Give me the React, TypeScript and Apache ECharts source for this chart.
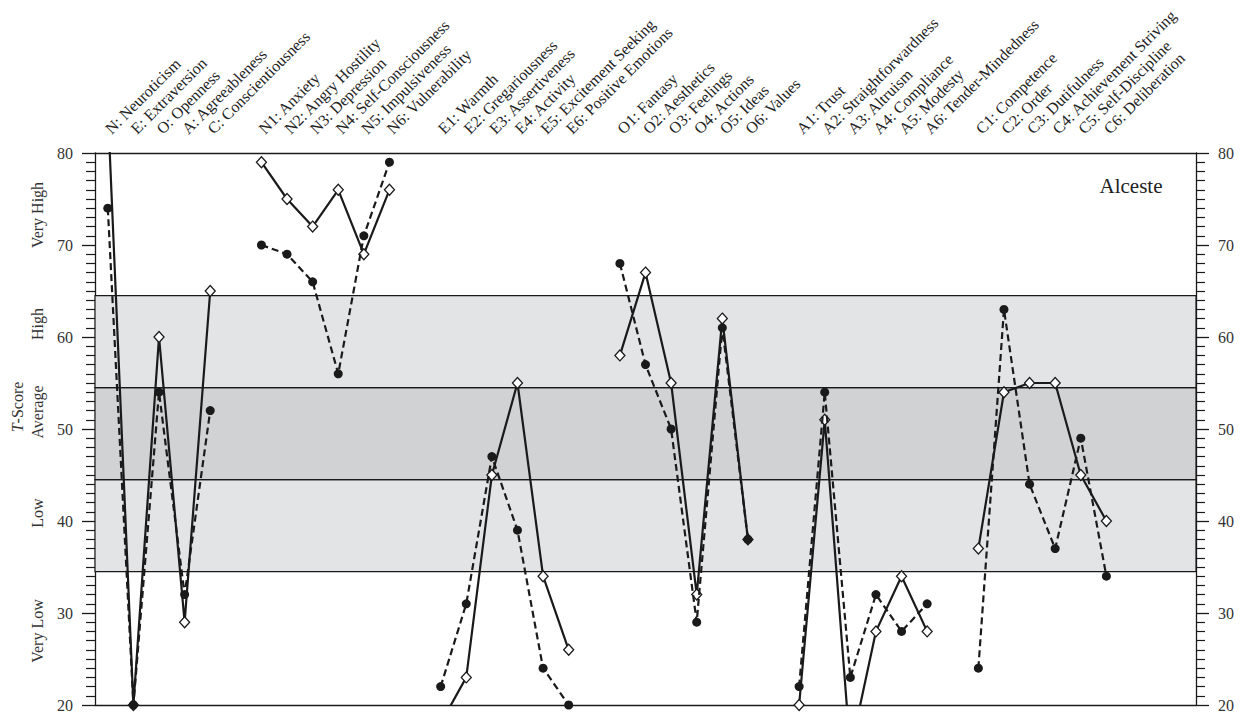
import React, { useEffect, useRef } from 'react';
import * as echarts from 'echarts';

const categories: string[] = [
  'N: Neuroticism', 'E: Extraversion', 'O: Openness', 'A: Agreeableness', 'C: Conscientiousness', '',
  'N1: Anxiety', 'N2: Angry Hostility', 'N3: Depression', 'N4: Self-Consciousness', 'N5: Impulsiveness', 'N6: Vulnerability', '',
  'E1: Warmth', 'E2: Gregariousness', 'E3: Assertiveness', 'E4: Activity', 'E5: Excitement Seeking', 'E6: Positive Emotions', '',
  'O1: Fantasy', 'O2: Aesthetics', 'O3: Feelings', 'O4: Actions', 'O5: Ideas', 'O6: Values', '',
  'A1: Trust', 'A2: Straightforwardness', 'A3: Altruism', 'A4: Compliance', 'A5: Modesty', 'A6: Tender-Mindedness', '',
  'C1: Competence', 'C2: Order', 'C3: Dutifulness', 'C4: Achievement Striving', 'C5: Self-Discipline', 'C6: Deliberation', '', '', '',
];

// solid line, open diamonds
const solidScores: (number | null)[] = [
  85, 20, 60, 29, 65, null,
  79, 75, 72, 76, 69, 76, null,
  18, 23, 45, 55, 34, 26, null,
  58, 67, 55, 32, 62, 38, null,
  20, 51, 15, 28, 34, 28, null,
  37, 54, 55, 55, 45, 40, null, null, null,
];

// dashed line, filled circles
const dashedScores: (number | null)[] = [
  74, 20, 54, 32, 52, null,
  70, 69, 66, 56, 71, 79, null,
  22, 31, 47, 39, 24, 20, null,
  68, 57, 50, 29, 61, 38, null,
  22, 54, 23, 32, 28, 31, null,
  24, 63, 44, 37, 49, 34, null, null, null,
];

const yMin = 20;
const yMax = 80;
const yInterval = 10;

const bandEdges = [34.5, 44.5, 54.5, 64.5];
const bandColors = ['#e3e4e6', '#d1d2d4', '#e3e4e6'];

const levelLabels = ['Very Low', 'Low', 'Average', 'High', 'Very High'];
const levelLabelY = [631, 513, 412, 324, 215];

const FONT = 'Liberation Serif';
const INK = '#1a1a1a';

export default function App() {
  const ref = useRef<HTMLDivElement>(null);

  useEffect(() => {
    if (!ref.current) return;
    const chart = echarts.init(ref.current, null, { renderer: 'svg' });

    const yAxisBase = (position: 'left' | 'right') => ({
      type: 'value',
      position,
      min: yMin,
      max: yMax,
      interval: yInterval,
      axisLine: { show: true, lineStyle: { color: INK, width: 1.3 } },
      axisTick: { show: true, length: 13, lineStyle: { color: INK, width: 1.3 } },
      minorTick: { show: true, splitNumber: 10, length: 9, lineStyle: { color: INK, width: 1.2 } },
      axisLabel: { margin: 22, fontFamily: FONT, fontSize: 16, color: '#333' },
      splitLine: { show: false },
      minorSplitLine: { show: false },
    });

    const markAreaData = bandColors.map((c, i) => [
      { yAxis: bandEdges[i], itemStyle: { color: c } },
      { yAxis: bandEdges[i + 1] },
    ]);

    chart.setOption({
      animation: false,
      backgroundColor: '#ffffff',
      grid: { left: 95, right: 45, top: 153, bottom: 8, containLabel: false },
      xAxis: [
        {
          type: 'category',
          position: 'top',
          data: categories,
          boundaryGap: true,
          axisLine: { show: true, lineStyle: { color: INK, width: 1.3 } },
          axisTick: { show: false },
          axisLabel: {
            interval: 0,
            rotate: -45,
            align: 'left',
            verticalAlign: 'middle',
            margin: 22,
            fontFamily: FONT,
            fontSize: 16,
            color: '#222',
          },
          splitLine: { show: false },
        },
        {
          type: 'category',
          position: 'bottom',
          data: categories,
          boundaryGap: true,
          axisLine: { show: true, lineStyle: { color: INK, width: 1.3 } },
          axisTick: { show: false },
          axisLabel: { show: false },
          splitLine: { show: false },
        },
      ],
      yAxis: [yAxisBase('left'), yAxisBase('right')],
      series: [
        {
          type: 'line',
          name: 'bands',
          data: [],
          silent: true,
          markArea: {
            silent: true,
            itemStyle: { borderColor: INK, borderWidth: 1.2 },
            data: markAreaData,
          },
          z: 1,
        },
        {
          type: 'line',
          name: 'Solid',
          data: solidScores,
          connectNulls: false,
          clip: true,
          symbol: 'diamond',
          symbolSize: [10, 11],
          showSymbol: true,
          lineStyle: { color: INK, width: 2.2, type: 'solid' },
          itemStyle: { color: '#ffffff', borderColor: INK, borderWidth: 1.3 },
          z: 3,
        },
        {
          type: 'line',
          name: 'Dashed',
          data: dashedScores,
          connectNulls: false,
          clip: true,
          symbol: 'circle',
          symbolSize: 9,
          showSymbol: true,
          lineStyle: { color: INK, width: 2.2, type: [7, 4] },
          itemStyle: { color: INK, borderColor: INK, borderWidth: 0 },
          z: 4,
        },
      ],
      graphic: [
        {
          type: 'text',
          x: 1131,
          y: 186,
          style: {
            text: 'Alceste',
            fontFamily: FONT,
            fontSize: 21,
            fill: '#222',
            align: 'center',
            verticalAlign: 'middle',
          },
        },
        ...levelLabels.map((t, i) => ({
          type: 'text',
          x: 37,
          y: levelLabelY[i],
          rotation: Math.PI / 2,
          style: {
            text: t,
            fontFamily: FONT,
            fontSize: 16,
            fill: '#333',
            align: 'center',
            verticalAlign: 'middle',
          },
        })),
        {
          type: 'text',
          x: 17,
          y: 407,
          rotation: Math.PI / 2,
          style: {
            text: '{i|T}-Score',
            fontFamily: FONT,
            fontSize: 16,
            fill: '#333',
            align: 'center',
            verticalAlign: 'middle',
            rich: {
              i: { fontStyle: 'italic', fontFamily: FONT, fontSize: 16, fill: '#333' },
            },
          },
        },
      ],
    });

    return () => chart.dispose();
  }, []);

  return (
    <div
      ref={ref}
      style={{ position: 'fixed', left: 0, top: 0, width: 1241, height: 713, background: '#fff' }}
    />
  );
}
